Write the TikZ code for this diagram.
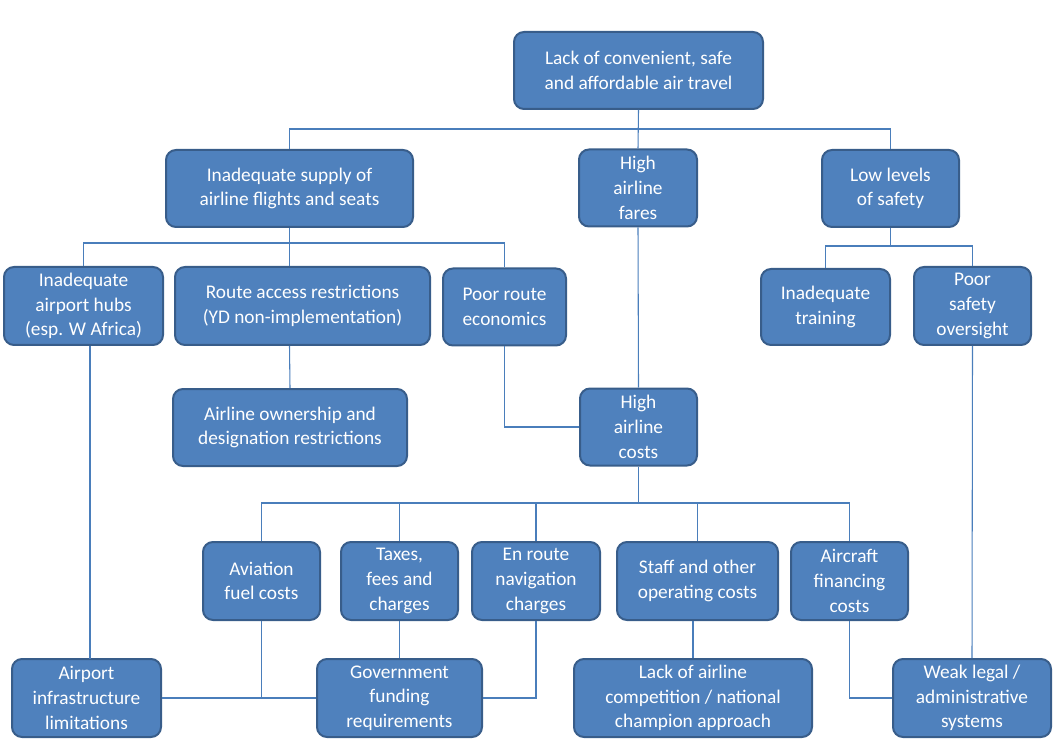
\documentclass[tikz,border=0pt]{standalone}
\usepackage{fontspec}
\setmainfont{Carlito}
\definecolor{boxfill}{HTML}{4F81BD}
\definecolor{boxborder}{HTML}{385D8A}
\definecolor{linkcol}{HTML}{4A7EBB}
\begin{document}
\begin{tikzpicture}[x=0.75pt,y=-0.75pt,
  box/.style={draw=boxborder, fill=boxfill, line width=1.5pt, rounded corners=7.5pt,
    text=white, align=center, inner sep=0pt,
    font=\fontsize{14.5}{18.5}\selectfont},
  wh/.style 2 args={minimum width=#1*0.75pt, minimum height=#2*0.75pt},
  link/.style={draw=linkcol, line width=0.8pt}]
\useasboundingbox (0,0) rectangle (1056,741);

\node[box, wh={249}{77}] (n1) at (638.5,70.5) {Lack of convenient, safe\\and affordable air travel};
\node[box, wh={247}{77}] (n2) at (289.5,188.5) {Inadequate supply of\\airline flights and seats};
\node[box, wh={118}{77}] (n3) at (638,188) {High\\airline\\fares};
\node[box, wh={137}{77}] (n4) at (890.5,188.5) {Low levels\\of safety};
\node[box, wh={159}{78}] (n5) at (83.5,306) {Inadequate\\airport hubs\\(esp. W Africa)};
\node[box, wh={255}{78}] (n6) at (302.5,306) {Route access restrictions\\(YD non-implementation)};
\node[box, wh={123}{77}] (n7) at (504.5,307) {Poor route\\economics};
\node[box, wh={129}{76}] (n8) at (825.5,307) {Inadequate\\training};
\node[box, wh={117}{78}] (n9) at (972.5,306) {Poor\\safety\\oversight};
\node[box, wh={234}{77}] (n10) at (290,427.5) {Airline ownership and\\designation restrictions};
\node[box, wh={117}{77}] (n11) at (638.5,427) {High\\airline\\costs};
\node[box, wh={117}{78}] (n12) at (261.5,581) {Aviation\\fuel costs};
\node[box, wh={117}{78}] (n13) at (399.5,581) {Taxes,\\fees and\\charges};
\node[box, wh={128}{78}] (n14) at (536,581) {En route\\navigation\\charges};
\node[box, wh={161}{78}] (n15) at (697.5,581) {Staff and other\\operating costs};
\node[box, wh={117}{78}] (n16) at (849.5,581) {Aircraft\\financing\\costs};
\node[box, wh={149}{78}] (n17) at (86.5,698) {Airport\\infrastructure\\limitations};
\node[box, wh={165}{78}] (n18) at (399.5,698) {Government\\funding\\requirements};
\node[box, wh={238}{78}] (n19) at (693,698) {Lack of airline\\competition / national\\champion approach};
\node[box, wh={158}{78}] (n20) at (972,698) {Weak legal /\\administrative\\systems};

\coordinate (b1) at (638.5,129);
\coordinate (b2) at (289.5,243);
\coordinate (b4) at (890.5,246);
\coordinate (b11) at (638.5,503);
\coordinate (h17) at (90,659);

\draw[link] (n1.south) -- (n3.north);
\draw[link] (n2.north) |- (b1) -| (n4.north);

\draw[link] (n2.south) -- (b2);
\draw[link] (n5.north) |- (b2) -| (n7.north);
\draw[link] (b2) -- (n2.south |- n6.north);
\draw[link] (n2.south |- n6.south) -- (n10.north);

\draw[link] (n4.south) -- (b4);
\draw[link] (n8.north) |- (b4) -| (n9.north);

\draw[link] (n3.south) -- (n11.north);
\draw[link] (n7.south) |- (n11.west);

\draw[link] (n11.south) -- (b11);
\draw[link] (n12.north) |- (b11) -| (n16.north);
\draw[link] (n13.north) -- (n13.north |- b11);
\draw[link] (n14.north) -- (n14.north |- b11);
\draw[link] (n15.north) -- (n15.north |- b11);

\draw[link] (h17) -- (h17 |- n5.south);
\draw[link] (n17.east) -- (n18.west);
\draw[link] (n12.south) -- (n12.south |- n18.west);
\draw[link] (n13.south) -- (n18.north);
\draw[link] (n14.south) |- (n18.east);
\draw[link] (n19.north) -- (n19.north |- n15.south);
\draw[link] (n16.south) |- (n20.west);
\draw[link] (n9.south) -- (n20.north);
\end{tikzpicture}
\end{document}
